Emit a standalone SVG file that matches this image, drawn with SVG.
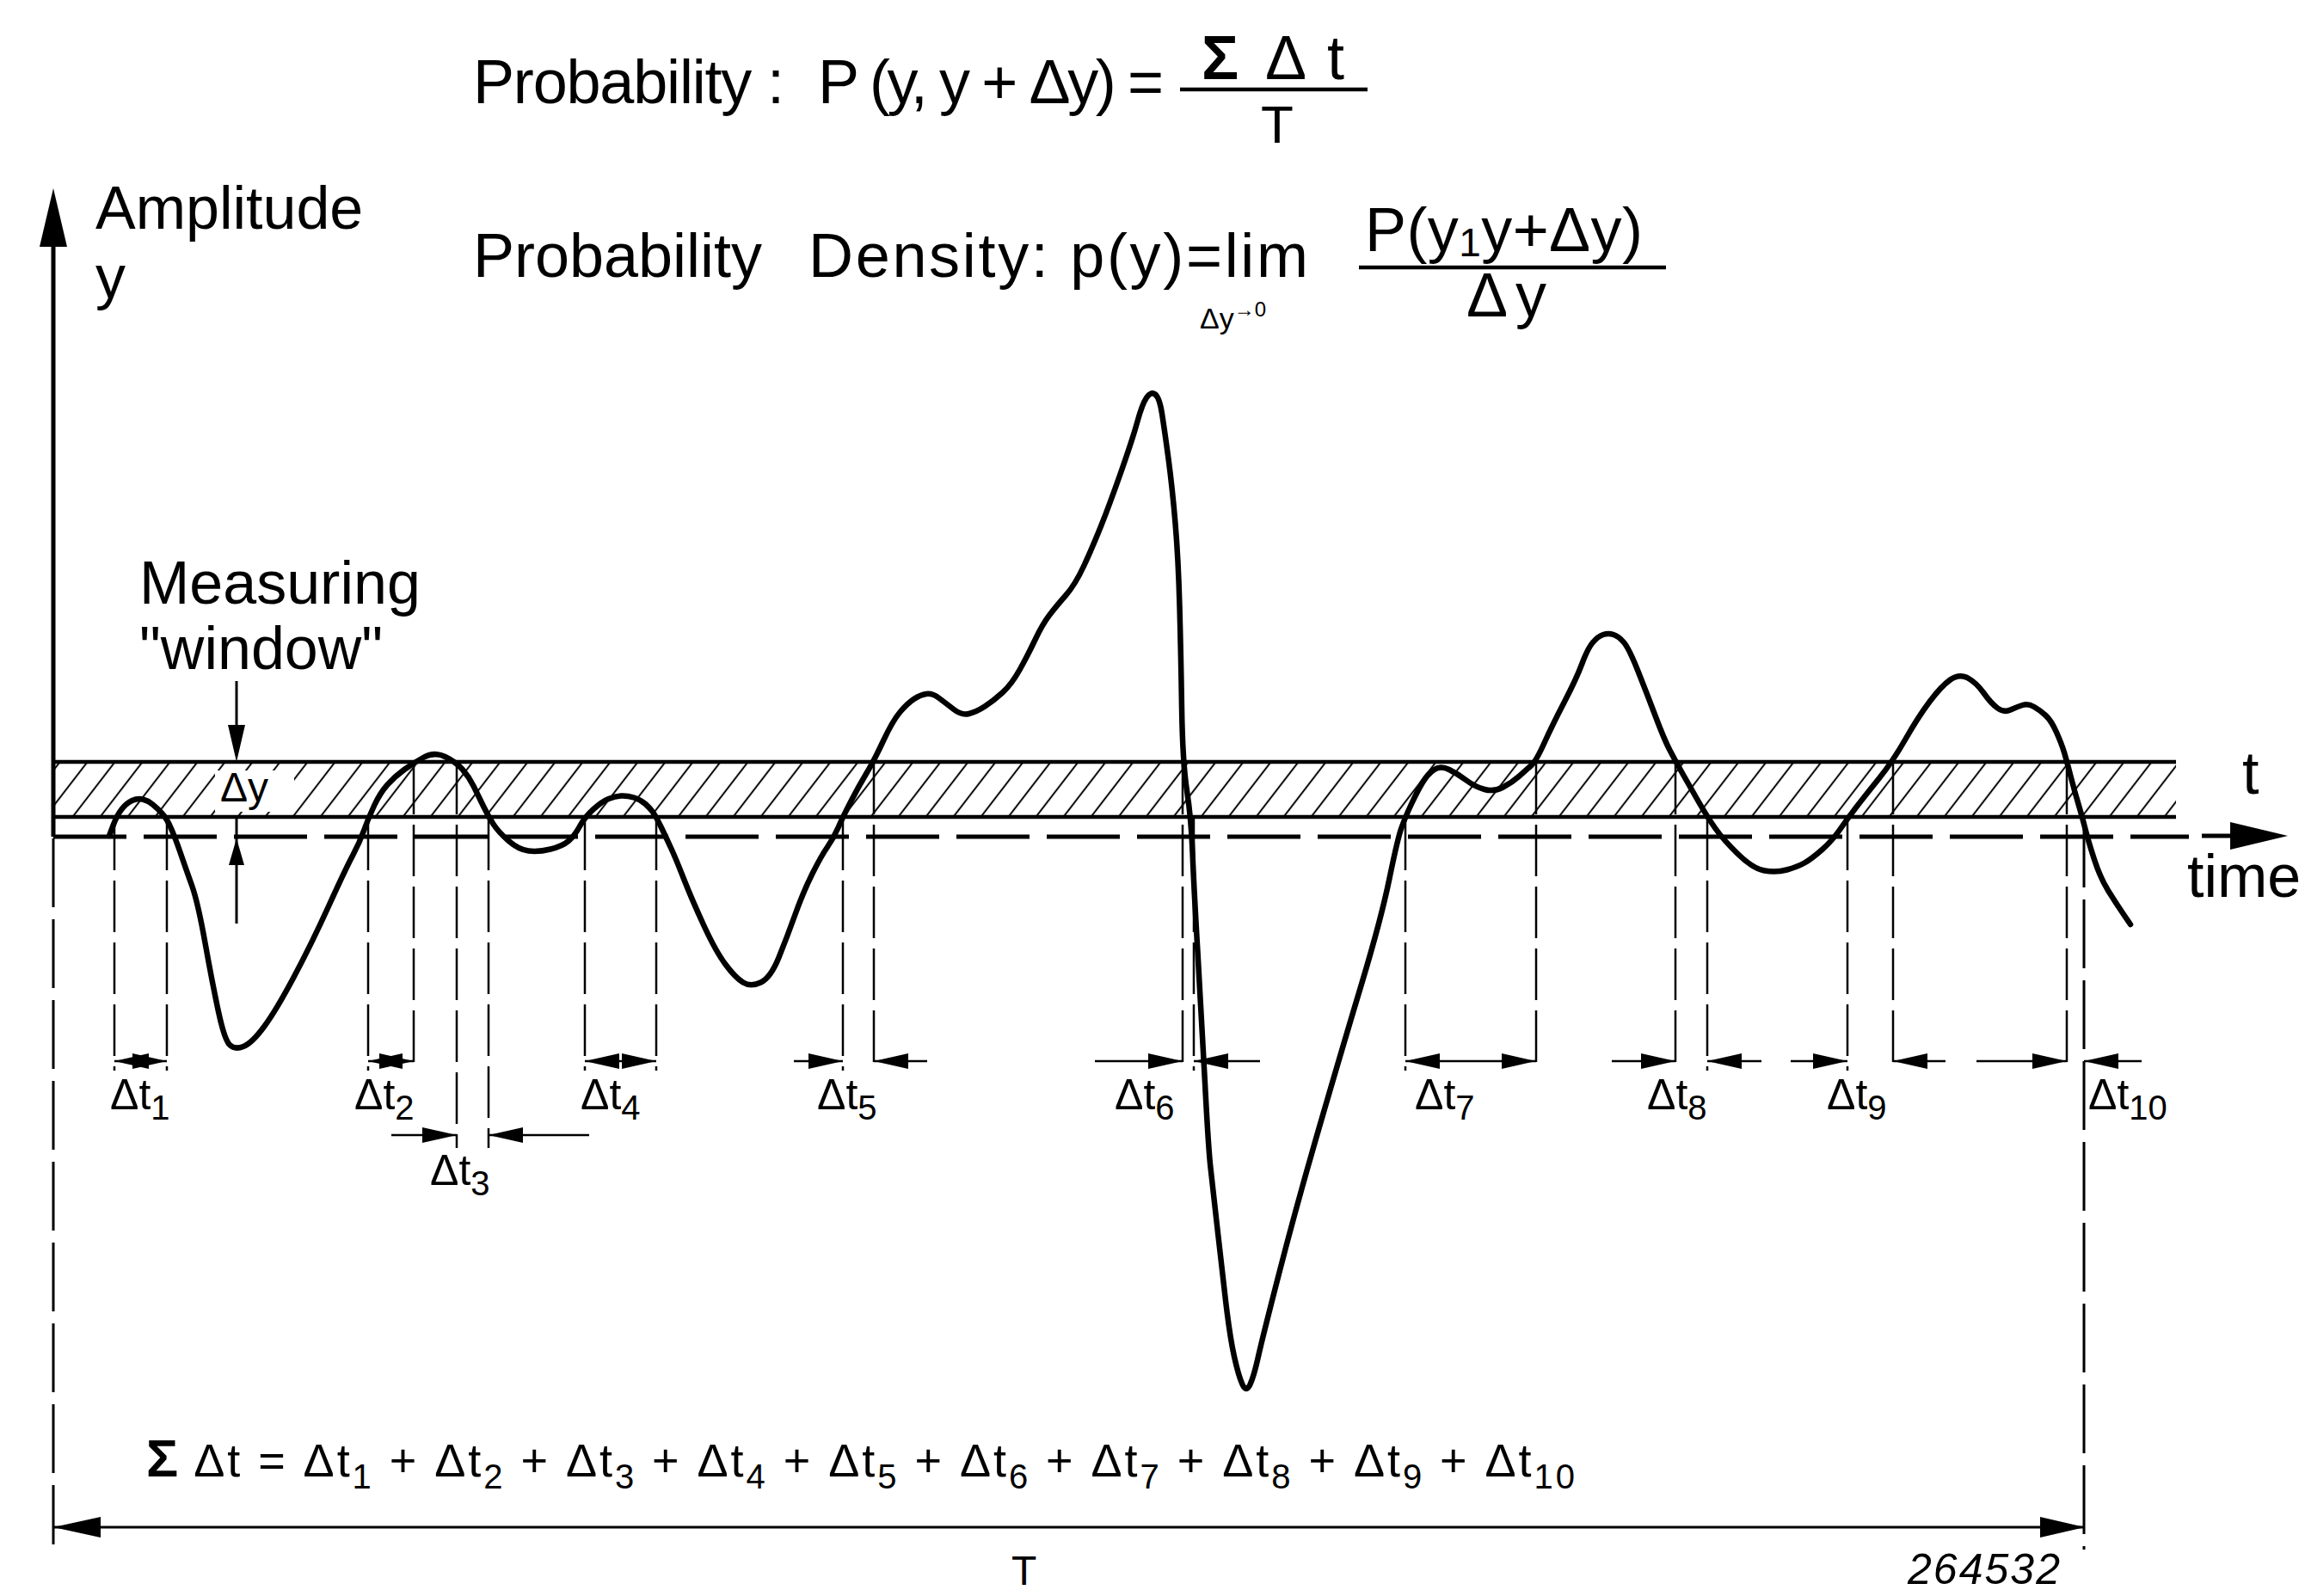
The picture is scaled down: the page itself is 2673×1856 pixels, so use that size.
<svg xmlns="http://www.w3.org/2000/svg" width="2673" height="1856" viewBox="0 0 2673 1856">
<style>
text{font-family:"Liberation Sans",Arial,sans-serif;fill:#000}
.big{font-size:72px}
.lab{font-size:70px}
.dl{font-size:50px}
.sub{font-size:40px}
.ext{stroke:#000;stroke-width:2.5;stroke-dasharray:60 12;fill:none}
.dim{stroke:#000;stroke-width:2.5;fill:none}
.bar{stroke:#000;stroke-width:4.5}
</style>
<defs>
<pattern id="hatch" patternUnits="userSpaceOnUse" width="32" height="64" patternTransform="skewX(-37.6)">
<line x1="16" y1="0" x2="16" y2="64" stroke="#000" stroke-width="2.5"/>
</pattern>
<marker id="ah" viewBox="0 0 40 18" refX="40" refY="9" markerWidth="40" markerHeight="18" markerUnits="userSpaceOnUse" orient="auto-start-reverse">
<path d="M0,0 L40,9 L0,18 z" fill="#000"/>
</marker>
</defs>
<rect width="2673" height="1856" fill="#fff"/>

<g id="formulas">
<text class="big" x="550" y="120" textLength="362" lengthAdjust="spacing">Probability :</text>
<text class="big" x="951" y="120" textLength="402" lengthAdjust="spacing">P (y, y + Δy) =</text>
<text class="big" x="1397" y="92" font-weight="bold">Σ</text>
<text class="big" x="1471" y="92" textLength="92" lengthAdjust="spacing">Δt</text>
<line x1="1372" y1="104" x2="1590" y2="104" class="bar"/>
<text x="1466" y="166" style="font-size:62px">T</text>

<text class="big" x="550" y="322" textLength="336" lengthAdjust="spacing">Probability</text>
<text class="big" x="940" y="322" textLength="581" lengthAdjust="spacing">Density: p(y)=lim</text>
<text x="1395" y="382" style="font-size:34px">Δy<tspan dy="-14" style="font-size:24px">→0</tspan></text>
<text class="big" x="1587" y="292" textLength="323" lengthAdjust="spacing">P(y<tspan dy="6" style="font-size:46px">1</tspan><tspan dy="-6">y+Δy)</tspan></text>
<line x1="1580" y1="311" x2="1937" y2="311" class="bar"/>
<text class="big" x="1705" y="368" textLength="93" lengthAdjust="spacing">Δ y</text>
</g>

<g id="axes">
<line x1="62" y1="280" x2="62" y2="973" stroke="#000" stroke-width="5"/>
<polygon points="62,219 46,287 78,287" fill="#000"/>
<text class="lab" x="111" y="266">Amplitude</text>
<text class="lab" x="111" y="346">y</text>
<line x1="62" y1="975" x2="62" y2="1796" stroke="#000" stroke-width="3" stroke-dasharray="80 14"/>
<line x1="62" y1="973" x2="2545" y2="973" stroke="#000" stroke-width="5" stroke-dasharray="85 20"/>
<line x1="2560" y1="972" x2="2600" y2="972" stroke="#000" stroke-width="5"/>
<polygon points="2593,956 2660,972 2593,988" fill="#000"/>
<text class="lab" x="2607" y="923">t</text>
<text class="lab" x="2543" y="1043">time</text>
</g>

<g id="window">
<rect x="62" y="886" width="2468" height="64" fill="url(#hatch)"/>
<rect x="250" y="896" width="92" height="48" fill="#fff"/>
<line x1="62" y1="886" x2="2530" y2="886" class="bar"/>
<line x1="62" y1="950" x2="2530" y2="950" class="bar"/>
<text x="256" y="932" style="font-size:48px">Δy</text>
<text class="lab"><tspan x="162" y="702">Measuring</tspan><tspan x="162" y="778">"window"</tspan></text>
<line x1="275" y1="792" x2="275" y2="850" stroke="#000" stroke-width="3"/>
<polygon points="265,843 285,843 275,886" fill="#000"/>
<line x1="275" y1="950" x2="275" y2="1074" stroke="#000" stroke-width="3"/>
<polygon points="275,975 266,1006 284,1006" fill="#000"/>
</g>

<g id="signal">
<path d="M127,972 L131.5,960 Q136,948 141.5,941 Q147,934 153.5,931 Q160,928 166,929.5 Q172,931 177.5,935.5 Q183,940 188.5,946 Q194,952 199,963.5 Q204,975 210,992.5 Q216,1010 223,1029.5 Q230,1049 238.5,1096.5 Q247,1144 254,1176.5 Q261,1209 267,1215 Q273,1221 283,1217 Q293,1213 307,1194 Q321,1175 341.5,1136.5 Q362,1098 382,1054 Q402,1010 410,995 Q418,980 423,966 Q428,952 435,937 Q442,922 450.5,912.5 Q459,903 470,895 Q481,887 493,880.5 Q505,874 517.5,880 Q530,886 537.5,894.5 Q545,903 550.5,914 Q556,925 562,937.5 Q568,950 574,959 Q580,968 591.5,978 Q603,988 614.5,989.5 Q626,991 640,987.5 Q654,984 661,978 Q668,972 674,961 Q680,950 690,941 Q700,932 707.5,929 Q715,926 722,925.5 Q729,925 737,927.5 Q745,930 750.5,935 Q756,940 759.5,945 Q763,950 769,962.5 Q775,975 780.5,987 Q786,999 795,1022 Q804,1045 818,1075.5 Q832,1106 843.5,1121.5 Q855,1137 864,1142.5 Q873,1148 884.5,1142.5 Q896,1137 905.5,1113.5 Q915,1090 924.5,1063.5 Q934,1037 944.5,1016 Q955,995 962,985 Q969,975 974.5,962.5 Q980,950 989,932.5 Q998,915 1007,900 Q1016,885 1027,861.5 Q1038,838 1046.5,828 Q1055,818 1062.5,813 Q1070,808 1077,807 Q1084,806 1092,812 Q1100,818 1109,825 Q1118,832 1126.5,830 Q1135,828 1145,821.5 Q1155,815 1165.5,805.5 Q1176,796 1185.5,779 Q1195,762 1203.5,744 Q1212,726 1220,715.5 Q1228,705 1239,692.5 Q1250,680 1260,658.5 Q1270,637 1280,612 Q1290,587 1303.5,548.5 Q1317,510 1322.5,490 Q1328,470 1333,462.5 Q1338,455 1343,458.5 Q1348,462 1351,481 Q1354,500 1358.5,533.5 Q1363,567 1366.5,608.5 Q1370,650 1371.5,705 Q1373,760 1374,823.5 Q1375,887 1380,919.5 Q1385,952 1386.5,991 Q1388,1030 1392.5,1106.5 Q1397,1183 1401,1259.5 Q1405,1336 1407.5,1358 Q1410,1380 1415,1425 Q1420,1470 1425,1512.5 Q1430,1555 1435,1577.5 Q1440,1600 1444.5,1610 Q1449,1620 1453.5,1610 Q1458,1600 1463,1577.5 Q1468,1555 1488,1477.5 Q1508,1400 1534,1310.5 Q1560,1221 1583,1144.5 Q1606,1068 1615.5,1021.5 Q1625,975 1629.5,962.5 Q1634,950 1641,935 Q1648,920 1654,910 Q1660,900 1667.5,895 Q1675,890 1685,895 Q1695,900 1705,907.5 Q1715,915 1726,918 Q1737,921 1747.5,915.5 Q1758,910 1766.5,902.5 Q1775,895 1780.5,890 Q1786,885 1795.5,864 Q1805,843 1819,816 Q1833,789 1839.5,771.5 Q1846,754 1852,747 Q1858,740 1864,738 Q1870,736 1876,738 Q1882,740 1888,747 Q1894,754 1904.5,780.5 Q1915,807 1925,833.5 Q1935,860 1941.5,872.5 Q1948,885 1956.5,900 Q1965,915 1975,932.5 Q1985,950 1994.5,963.5 Q2004,977 2021,993.5 Q2038,1010 2051.5,1012.5 Q2065,1015 2077.5,1011.5 Q2090,1008 2098,1003.5 Q2106,999 2118,988.5 Q2130,978 2139,965 Q2148,952 2158,939 Q2168,926 2184.5,905.5 Q2201,885 2215.5,859.5 Q2230,834 2243.5,816 Q2257,798 2267.5,790.5 Q2278,783 2288,788.5 Q2298,794 2306.5,806 Q2315,818 2322.5,823.5 Q2330,829 2337.5,825.5 Q2345,822 2351.5,820 Q2358,818 2365,822 Q2372,826 2378.5,832 Q2385,838 2391,851.5 Q2397,865 2400,875 Q2403,885 2407.5,902.5 Q2412,920 2416.5,935 Q2421,950 2424.5,964 Q2428,978 2435,999.5 Q2442,1021 2451,1035.5 Q2460,1050 2468.5,1062.5 L2477,1075" fill="none" stroke="#000" stroke-width="6.5" stroke-linejoin="round" stroke-linecap="round"/>
</g>

<g id="extension-lines">
<line class="ext" x1="133" y1="952" x2="133" y2="1245"/>
<line class="ext" x1="194" y1="952" x2="194" y2="1245"/>
<line class="ext" x1="428" y1="952" x2="428" y2="1245"/>
<line class="ext" x1="481" y1="887" x2="481" y2="1245"/>
<line class="ext" x1="531" y1="887" x2="531" y2="1335"/>
<line class="ext" x1="568" y1="952" x2="568" y2="1335"/>
<line class="ext" x1="680" y1="952" x2="680" y2="1245"/>
<line class="ext" x1="763" y1="952" x2="763" y2="1245"/>
<line class="ext" x1="980" y1="952" x2="980" y2="1245"/>
<line class="ext" x1="1016" y1="887" x2="1016" y2="1245"/>
<line class="ext" x1="1375" y1="887" x2="1375" y2="1245"/>
<line class="ext" x1="1388" y1="952" x2="1388" y2="1245"/>
<line class="ext" x1="1634" y1="952" x2="1634" y2="1245"/>
<line class="ext" x1="1786" y1="887" x2="1786" y2="1245"/>
<line class="ext" x1="1948" y1="887" x2="1948" y2="1245"/>
<line class="ext" x1="1985" y1="952" x2="1985" y2="1245"/>
<line class="ext" x1="2148" y1="952" x2="2148" y2="1245"/>
<line class="ext" x1="2201" y1="887" x2="2201" y2="1245"/>
<line class="ext" x1="2403" y1="887" x2="2403" y2="1245"/>
<line class="ext" x1="2423" y1="952" x2="2423" y2="1802" style="stroke-width:3;stroke-dasharray:80 14"/>
</g>

<g id="dimensions">
<line class="dim" x1="133" y1="1234" x2="194" y2="1234" marker-start="url(#ah)" marker-end="url(#ah)"/>
<line class="dim" x1="428" y1="1234" x2="481" y2="1234" marker-start="url(#ah)" marker-end="url(#ah)"/>
<line class="dim" x1="455" y1="1320" x2="531" y2="1320" marker-end="url(#ah)"/>
<line class="dim" x1="685" y1="1320" x2="568" y2="1320" marker-end="url(#ah)"/>
<line class="dim" x1="680" y1="1234" x2="763" y2="1234" marker-start="url(#ah)" marker-end="url(#ah)"/>
<line class="dim" x1="923" y1="1234" x2="980" y2="1234" marker-end="url(#ah)"/>
<line class="dim" x1="1078" y1="1234" x2="1016" y2="1234" marker-end="url(#ah)"/>
<line class="dim" x1="1273" y1="1234" x2="1375" y2="1234" marker-end="url(#ah)"/>
<line class="dim" x1="1465" y1="1234" x2="1388" y2="1234" marker-end="url(#ah)"/>
<line class="dim" x1="1634" y1="1234" x2="1786" y2="1234" marker-start="url(#ah)" marker-end="url(#ah)"/>
<line class="dim" x1="1874" y1="1234" x2="1948" y2="1234" marker-end="url(#ah)"/>
<line class="dim" x1="2048" y1="1234" x2="1985" y2="1234" marker-end="url(#ah)"/>
<line class="dim" x1="2082" y1="1234" x2="2148" y2="1234" marker-end="url(#ah)"/>
<line class="dim" x1="2262" y1="1234" x2="2201" y2="1234" marker-end="url(#ah)"/>
<line class="dim" x1="2298" y1="1234" x2="2403" y2="1234" marker-end="url(#ah)"/>
<line class="dim" x1="2490" y1="1234" x2="2423" y2="1234" marker-end="url(#ah)"/>

<text class="dl" x="128" y="1290">Δt<tspan class="sub" dy="12">1</tspan></text>
<text class="dl" x="412" y="1290">Δt<tspan class="sub" dy="12">2</tspan></text>
<text class="dl" x="500" y="1378">Δt<tspan class="sub" dy="12">3</tspan></text>
<text class="dl" x="675" y="1290">Δt<tspan class="sub" dy="12">4</tspan></text>
<text class="dl" x="950" y="1290">Δt<tspan class="sub" dy="12">5</tspan></text>
<text class="dl" x="1296" y="1290">Δt<tspan class="sub" dy="12">6</tspan></text>
<text class="dl" x="1645" y="1290">Δt<tspan class="sub" dy="12">7</tspan></text>
<text class="dl" x="1915" y="1290">Δt<tspan class="sub" dy="12">8</tspan></text>
<text class="dl" x="2124" y="1290">Δt<tspan class="sub" dy="12">9</tspan></text>
<text class="dl" x="2428" y="1290">Δt<tspan class="sub" dy="12">10</tspan></text>

<text x="170" y="1717" style="font-size:54px" textLength="1661" lengthAdjust="spacing"><tspan font-weight="bold" font-size="62">Σ</tspan> Δt = Δt<tspan dy="14" font-size="40">1</tspan><tspan dy="-14"> + Δt</tspan><tspan dy="14" font-size="40">2</tspan><tspan dy="-14"> + Δt</tspan><tspan dy="14" font-size="40">3</tspan><tspan dy="-14"> + Δt</tspan><tspan dy="14" font-size="40">4</tspan><tspan dy="-14"> + Δt</tspan><tspan dy="14" font-size="40">5</tspan><tspan dy="-14"> + Δt</tspan><tspan dy="14" font-size="40">6</tspan><tspan dy="-14"> + Δt</tspan><tspan dy="14" font-size="40">7</tspan><tspan dy="-14"> + Δt</tspan><tspan dy="14" font-size="40">8</tspan><tspan dy="-14"> + Δt</tspan><tspan dy="14" font-size="40">9</tspan><tspan dy="-14"> + Δt</tspan><tspan dy="14" font-size="40">10</tspan></text>

<line x1="62" y1="1776" x2="2424" y2="1776" stroke="#000" stroke-width="3"/>
<polygon points="62,1776 117,1764 117,1788" fill="#000"/>
<polygon points="2424,1776 2372,1764 2372,1788" fill="#000"/>
<text x="1176" y="1843" style="font-size:48px">T</text>
<text x="2218" y="1842" style="font-size:50px;font-style:italic" textLength="177" lengthAdjust="spacing">264532</text>
</g>
</svg>
